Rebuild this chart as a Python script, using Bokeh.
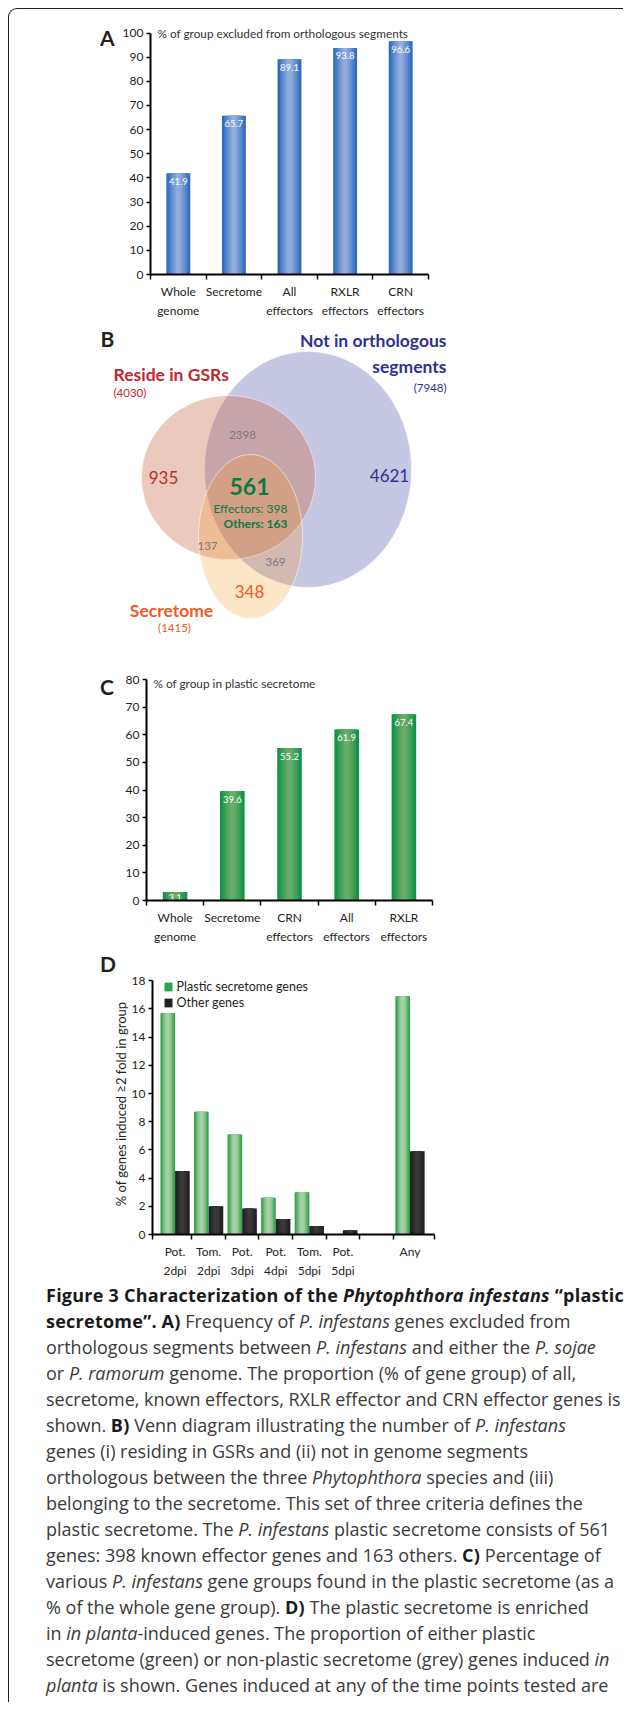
import numpy as np
from bokeh.plotting import figure
from bokeh.models import Range1d, FixedTicker, Label, Legend, LegendItem, Div
from bokeh.layouts import column, row
from bokeh.embed import file_html
from bokeh.resources import INLINE
from bokeh.core.properties import value

nan = float("nan")

# ---------------- data ----------------
a_categories = ["Whole\ngenome", "Secretome", "All\neffectors", "RXLR\neffectors", "CRN\neffectors"]
a_values = [41.9, 65.7, 89.1, 93.8, 96.6]
a_title = "% of group excluded from orthologous segments"
a_ticks = list(range(0, 101, 10))

c_categories = ["Whole\ngenome", "Secretome", "CRN\neffectors", "All\neffectors", "RXLR\neffectors"]
c_values = [3.1, 39.6, 55.2, 61.9, 67.4]
c_title = "% of group in plastic secretome"
c_ticks = list(range(0, 81, 10))

d_categories = ["Pot.\n2dpi", "Tom.\n2dpi", "Pot.\n3dpi", "Pot.\n4dpi", "Tom.\n5dpi", "Pot.\n5dpi", "", "Any"]
d_plastic = [15.7, 8.7, 7.1, 2.6, 3.0, 0.0, nan, 16.9]
d_other = [4.5, 2.0, 1.85, 1.1, 0.6, 0.3, nan, 5.9]
d_series = ["Plastic secretome genes", "Other genes"]
d_ylabel = "% of genes induced \u22652 fold in group"
d_ticks = list(range(0, 19, 2))

venn_sets = ["Not in orthologous\nsegments", "Reside in GSRs", "Secretome"]
venn_totals = [7948, 4030, 1415]
venn_only = [4621, 935, 348]        # not-orthologous only, GSR only, secretome only
venn_pairs = [2398, 137, 369]       # GSR&notortho, GSR&secretome, notortho&secretome
venn_core = 561
venn_core_parts = [("Effectors", 398), ("Others", 163)]

# ---------------- styles ----------------
FONT = "Lato"
INK = "#231f20"
A_COLORS = ["#2f6dbf", "#4a7fc7", "#6590cf", "#7e9fd6", "#93acdc"]
C_COLORS = ["#12934a", "#2b9a52", "#44a05a", "#58a662", "#68ac6b"]
DG_COLORS = ["#2ea24f", "#58b168", "#7dc084", "#98ca9a", "#a8d1a6"]
DK_COLORS = ["#231f20", "#2b2829", "#333031", "#3b3839"]
LETTER_W = 100
LETTER_X = 107          # page x of the panel letters' centre


def grad_bars(p, x, top, width, colors):
    n = len(colors)
    first = None
    for i, col in enumerate(colors):
        r = p.vbar(x=x, top=top, bottom=0, width=width * (1 - i / n),
                   fill_color=col, line_color=None)
        if first is None:
            first = r
    return first


def base_fig(w, h, xr, yr, left, right, top, bottom):
    p = figure(width=w, height=h, x_range=xr, y_range=yr, output_backend="svg",
               toolbar_location=None, min_border_left=left, min_border_right=right,
               min_border_top=top, min_border_bottom=bottom)
    p.grid.visible = False
    p.outline_line_color = None
    p.background_fill_color = None
    p.border_fill_color = None
    return p


def style_axes(p, ybounds, yticks, xticks, xminor, xlabels):
    yax = p.yaxis[0]
    yax.ticker = FixedTicker(ticks=yticks)
    yax.bounds = ybounds
    yax.axis_line_width = 2
    yax.axis_line_color = "black"
    yax.major_tick_line_width = 1.5
    yax.major_tick_out = 4
    yax.major_tick_in = 0
    yax.minor_tick_line_color = None
    yax.major_label_standoff = 3
    yax.major_label_text_font = FONT
    yax.major_label_text_font_size = "12px"
    yax.major_label_text_color = INK
    xax = p.xaxis[0]
    xax.ticker = FixedTicker(ticks=xticks, minor_ticks=xminor)
    xax.major_label_overrides = {float(t): lab for t, lab in zip(xticks, xlabels)}
    xax.axis_line_width = 2
    xax.axis_line_color = "black"
    xax.major_tick_line_color = None
    xax.major_tick_out = 0
    xax.major_tick_in = 0
    xax.minor_tick_line_width = 1.5
    xax.minor_tick_line_color = "black"
    xax.minor_tick_out = 5
    xax.minor_tick_in = 0
    xax.major_label_standoff = 4
    xax.major_label_text_font = FONT
    xax.major_label_text_font_size = "12px"
    xax.major_label_text_color = INK
    xax.major_label_text_line_height = 1.3


def letter_div(letter, h, top_pad):
    html = (f'<div style="padding:{top_pad}px 0 0 {LETTER_X - 7 - 9}px; font-family:Lato; '
            f'font-weight:bold; font-size:21px; line-height:21px; color:{INK};">{letter}</div>')
    return Div(text=html, width=LETTER_W, height=h, margin=0)


def bar_panel(cats, vals, title, yticks, colors, left, right, top, bottom, h, ymax_px, title_y):
    n = len(cats)
    frame_h = h - top - bottom
    yend = yticks[-1] * frame_h / ymax_px
    p = base_fig(608 - LETTER_W, h, Range1d(0, n), Range1d(0, yend), left, right, top, bottom)
    xs = np.arange(n) + 0.5
    grad_bars(p, xs, vals, 0.43, colors)
    p.text(x=xs, y=vals, text=[f"{v}" for v in vals], text_color="white",
           text_font=value(FONT), text_font_size="9.5px", text_align="center",
           text_baseline="middle", y_offset=[5.5 if v < 5 else 8 for v in vals])
    style_axes(p, (0, yticks[-1]), yticks, list(xs), list(range(n + 1)), cats)
    p.add_layout(Label(x=0, y=title_y, x_offset=7, text=title, text_font=FONT,
                       text_font_size="11.8px", text_color="#333333", text_baseline="middle"))
    return p


# ---------------- panel A ----------------
pA = bar_panel(a_categories, a_values, a_title, a_ticks, A_COLORS,
               41, 189, 15, 51, 316, 241.5, 100)
rowA = row(letter_div("A", 316, 18), pA)

# ---------------- panel B (Venn) ----------------
B_TOP, B_BOT = 325, 646
pB = figure(width=608, height=B_BOT - B_TOP, x_range=Range1d(9, 617), y_range=Range1d(B_BOT, B_TOP),
            output_backend="svg", toolbar_location=None, min_border=0,
            x_axis_location=None, y_axis_location=None)
pB.grid.visible = False
pB.outline_line_color = None
pB.background_fill_color = None
pB.border_fill_color = None

ell_x = [307.5, 228, 250]
ell_y = [469, 477, 536]
ell_w = [207, 174, 104]
ell_h = [236, 164, 164]
ell_fill = ["#2e3192", "#c8603f", "#f7941d"]
ell_alpha = [0.27, 0.34, 0.245]
for i in range(3):
    pB.ellipse(x=ell_x[i], y=ell_y[i], width=ell_w[i], height=ell_h[i], fill_color=ell_fill[i],
               fill_alpha=ell_alpha[i], line_color="white", line_alpha=0.55, line_width=1)

BLUE, RED, ORANGE, GREEN, GREY = "#2e3192", "#c1272d", "#f15a24", "#0b7a3e", "#77787b"


def vtext(x, y, t, size, color, bold=False, align="center"):
    pB.text(x=[x], y=[y], text=[t], text_font=value(FONT), text_font_size=size,
            text_color=color, text_align=align, text_baseline="middle",
            text_font_style="bold" if bold else "normal")


vtext(LETTER_X, 338, "B", "21px", INK, True)
blue_lines = venn_sets[0].split("\n")
vtext(446, 340, blue_lines[0], "17.5px", BLUE, True, "right")
vtext(446, 365.7, blue_lines[1], "17.5px", BLUE, True, "right")
vtext(446, 387, f"({venn_totals[0]})", "11.5px", BLUE, False, "right")
vtext(113, 374, venn_sets[1], "17.5px", RED, True, "left")
vtext(113, 392, f"({venn_totals[1]})", "11.5px", RED, False, "left")
vtext(171, 610, venn_sets[2], "17.5px", ORANGE, True)
vtext(174, 627, f"({venn_totals[2]})", "11.5px", ORANGE)
vtext(389, 475, str(venn_only[0]), "17px", BLUE)
vtext(163, 477, str(venn_only[1]), "17px", RED)
vtext(249, 591, str(venn_only[2]), "17px", ORANGE)
vtext(242, 434, str(venn_pairs[0]), "11.5px", GREY)
vtext(207, 545, str(venn_pairs[1]), "11.5px", GREY)
vtext(275, 561, str(venn_pairs[2]), "11.5px", GREY)
vtext(249, 486, str(venn_core), "23px", GREEN, True)
vtext(287, 508, f"{venn_core_parts[0][0]}: {venn_core_parts[0][1]}", "12px", GREEN, False, "right")
vtext(287, 523, f"{venn_core_parts[1][0]}: {venn_core_parts[1][1]}", "12px", GREEN, True, "right")
rowB = row(pB)

# ---------------- panel C ----------------
pC = bar_panel(c_categories, c_values, c_title, c_ticks, C_COLORS,
               37, 185, 26, 51, 305, 221.0, 78.7)
rowC = row(letter_div("C", 305, 30), pC)

# ---------------- panel D ----------------
nD = len(d_categories)
dx0, dx1 = -0.673, nD - 1 + 0.73
D_H, D_TOP, D_BOTTOM = 330, 22, 45
d_frame_h = D_H - D_TOP - D_BOTTOM
d_yend = d_ticks[-1] * d_frame_h / 255.7
pD = base_fig(608 - LETTER_W, D_H, Range1d(dx0, dx1), Range1d(0, d_yend), 43, 183, D_TOP, D_BOTTOM)
idx = np.arange(nD)
g0 = grad_bars(pD, idx - 0.218, d_plastic, 0.436, DG_COLORS)
k0 = grad_bars(pD, idx + 0.218, d_other, 0.436, DK_COLORS)
style_axes(pD, (0, d_ticks[-1]), d_ticks,
           [i for i, c in enumerate(d_categories) if c],
           [dx0] + [i + 0.5 for i in range(nD - 1)] + [dx1],
           [c for c in d_categories if c])
pD.yaxis[0].axis_label = d_ylabel
pD.yaxis[0].axis_label_text_font = FONT
pD.yaxis[0].axis_label_text_font_style = "normal"
pD.yaxis[0].axis_label_text_font_size = "13px"
pD.yaxis[0].axis_label_text_color = INK
pD.yaxis[0].axis_label_standoff = 0
legend = Legend(items=[LegendItem(label=d_series[0], renderers=[g0]),
                       LegendItem(label=d_series[1], renderers=[k0])],
                location=(10.6, d_frame_h - 39), orientation="vertical", glyph_width=10,
                glyph_height=11, label_height=11, spacing=1, padding=0, margin=0, label_standoff=4,
                border_line_color=None, background_fill_color=None,
                label_text_font=FONT, label_text_font_size="12.5px", label_text_color=INK)
pD.add_layout(legend)
rowD = row(letter_div("D", D_H, 2), pD)

# ---------------- caption ----------------
cap_lines = [
    "<b>Figure 3 Characterization of the <i>Phytophthora infestans</i> \u201cplastic</b>",
    "<b>secretome\u201d.</b> <b>A)</b> Frequency of <i>P. infestans</i> genes excluded from",
    "orthologous segments between <i>P. infestans</i> and either the <i>P. sojae</i>",
    "or <i>P. ramorum</i> genome. The proportion (% of gene group) of all,",
    "secretome, known effectors, RXLR effector and CRN effector genes is",
    "shown. <b>B)</b> Venn diagram illustrating the number of <i>P. infestans</i>",
    "genes (i) residing in GSRs and (ii) not in genome segments",
    "orthologous between the three <i>Phytophthora</i> species and (iii)",
    "belonging to the secretome. This set of three criteria defines the",
    "plastic secretome. The <i>P. infestans</i> plastic secretome consists of 561",
    "genes: 398 known effector genes and 163 others. <b>C)</b> Percentage of",
    "various <i>P. infestans</i> gene groups found in the plastic secretome (as a",
    "% of the whole gene group). <b>D)</b> The plastic secretome is enriched",
    "in <i>in planta</i>-induced genes. The proportion of either plastic",
    "secretome (green) or non-plastic secretome (grey) genes induced <i>in</i>",
    "<i>planta</i> is shown. Genes induced at any of the time points tested are",
]
cap_html = ('<style>b{letter-spacing:0.25px;color:#1a1a1a;}</style>'
            '<div style="padding:1px 0 0 37px; font-family:\'Open Sans\'; font-size:18px; '
            'line-height:26px; white-space:nowrap; color:#3a3a3a;">'
            + "<br>".join(cap_lines) + "</div>")
cap = Div(text=cap_html, width=614, height=421, margin=0)

layout = column(rowA, rowB, rowC, rowD, cap, margin=(8, 0, 0, 8),
                styles={"border-left": "1px solid #231f20", "border-top": "1px solid #231f20",
                        "border-top-left-radius": "9px"})

open("out.html", "w").write(file_html(layout, INLINE))
